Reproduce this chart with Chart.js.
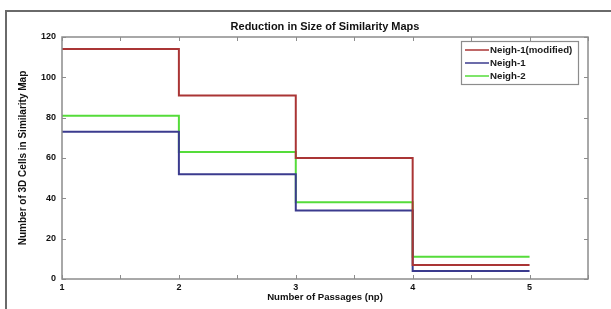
<!DOCTYPE html>
<html>
<head>
<meta charset="utf-8">
<script src="https://cdn.jsdelivr.net/npm/chart.js@4.4.1/dist/chart.umd.min.js"></script>
<style>
  html, body { margin: 0; padding: 0; background: #fff; }
  #wrap { position: relative; width: 611px; height: 309px; overflow: hidden; }
  #frame { position: absolute; left: 5px; top: 10px; width: 700px; height: 400px;
           border-left: 2px solid #6a6a6a; border-top: 2px solid #6a6a6a; }
  canvas { position: absolute; left: 0; top: 0; }
</style>
</head>
<body>
<div id="wrap">
  <div id="frame"></div>
  <canvas id="c" width="611" height="309"></canvas>
</div>
<script>
// ---- data ----
const passages = [1, 2, 3, 4, 5];
const neigh1Modified = [114, 91, 60, 7, 7];
const neigh1 = [73, 52, 34, 4, 4];
const neigh2 = [81, 63, 38, 11, 11];
const seriesLabels = ['Neigh-1(modified)', 'Neigh-1', 'Neigh-2'];
const xTickLabels = ['1', '2', '3', '4', '5'];
const chartTitle = 'Reduction in Size of Similarity Maps';
const xTitle = 'Number of Passages (np)';
const yTitle = 'Number of 3D Cells in Similarity Map';

const colors = ['#aa3535', '#3b3b8e', '#55dc3a'];
const FONT = "'Liberation Sans', Arial, sans-serif";

function pts(vals) { return passages.map((x, i) => ({ x: x, y: vals[i] })); }

const boxPlugin = {
  id: 'boxPlugin',
  afterDatasetsDraw(chart) {
    const { ctx, chartArea: a, scales } = chart;
    ctx.save();
    // title centred over the plot area
    ctx.fillStyle = '#111';
    ctx.font = 'bold 11px ' + FONT;
    ctx.textAlign = 'center';
    ctx.textBaseline = 'middle';
    ctx.fillText(chartTitle, (a.left + a.right) / 2, 27);
    ctx.textAlign = 'left';

    ctx.strokeStyle = '#8c8c8c';
    ctx.lineWidth = 1.5;
    ctx.strokeRect(a.left, a.top, a.right - a.left, a.bottom - a.top);
    ctx.lineWidth = 1;
    const L = 4;
    scales.x.ticks.forEach(t => {
      const px = Math.round(scales.x.getPixelForValue(t.value)) + 0.5;
      ctx.beginPath();
      ctx.moveTo(px, a.bottom); ctx.lineTo(px, a.bottom - L);
      ctx.moveTo(px, a.top); ctx.lineTo(px, a.top + L);
      ctx.stroke();
    });
    scales.y.ticks.forEach(t => {
      const py = Math.round(scales.y.getPixelForValue(t.value)) + 0.5;
      ctx.beginPath();
      ctx.moveTo(a.left, py); ctx.lineTo(a.left + L, py);
      ctx.moveTo(a.right, py); ctx.lineTo(a.right - L, py);
      ctx.stroke();
    });
    // legend box
    const bx = 461, by = 41, bw = 117, bh = 43;
    ctx.fillStyle = '#fff';
    ctx.fillRect(bx, by, bw, bh);
    ctx.strokeStyle = '#8c8c8c';
    ctx.lineWidth = 1.2;
    ctx.strokeRect(bx + 0.5, by + 0.5, bw, bh);
    ctx.font = 'bold 9.7px ' + FONT;
    ctx.textBaseline = 'middle';
    chart.data.datasets.forEach((ds, i) => {
      const y = by + 9 + i * 13;
      ctx.strokeStyle = ds.borderColor;
      ctx.lineWidth = 1.5;
      ctx.beginPath();
      ctx.moveTo(bx + 4, y); ctx.lineTo(bx + 28, y);
      ctx.stroke();
      ctx.fillStyle = '#1a1a1a';
      ctx.fillText(ds.label, bx + 29, y + 0.5);
    });
    ctx.restore();
  }
};

new Chart(document.getElementById('c'), {
  type: 'line',
  data: {
    datasets: [
      { label: seriesLabels[0], data: pts(neigh1Modified), borderColor: colors[0] },
      { label: seriesLabels[1], data: pts(neigh1), borderColor: colors[1] },
      { label: seriesLabels[2], data: pts(neigh2), borderColor: colors[2] }
    ].map(d => Object.assign(d, { stepped: 'before', borderWidth: 2, pointRadius: 0, fill: false, tension: 0 }))
  },
  options: {
    responsive: false,
    animation: false,
    devicePixelRatio: 1,
    layout: { padding: { left: 0, right: 23, top: 37, bottom: 0 } },
    plugins: {
      legend: { display: false },
      tooltip: { enabled: false },
      title: { display: false }
    },
    scales: {
      x: {
        type: 'linear', min: 1, max: 5.5,
        grid: { display: false, drawTicks: false },
        border: { display: false },
        ticks: {
          stepSize: 0.5, autoSkip: false, maxRotation: 0, padding: 3,
          color: '#111', font: { family: FONT, size: 9, weight: 'bold' },
          callback: v => (Number.isInteger(v) && v <= 5) ? xTickLabels[v - 1] : ''
        },
        title: {
          display: true, text: xTitle, color: '#111',
          font: { family: FONT, size: 9.6, weight: 'bold' },
          padding: { top: 0, bottom: 6 }
        },
        afterFit: s => { s.height = 30; }
      },
      y: {
        min: 0, max: 120,
        grid: { display: false, drawTicks: false },
        border: { display: false },
        ticks: {
          stepSize: 20, padding: 6,
          color: '#111', font: { family: FONT, size: 9, weight: 'bold' }
        },
        title: {
          display: true, text: yTitle, color: '#111',
          font: { family: FONT, size: 10, weight: 'bold' },
          padding: { top: 17, bottom: 0 }
        },
        afterFit: s => { s.width = 62; }
      }
    }
  },
  plugins: [boxPlugin]
});
</script>
</body>
</html>
